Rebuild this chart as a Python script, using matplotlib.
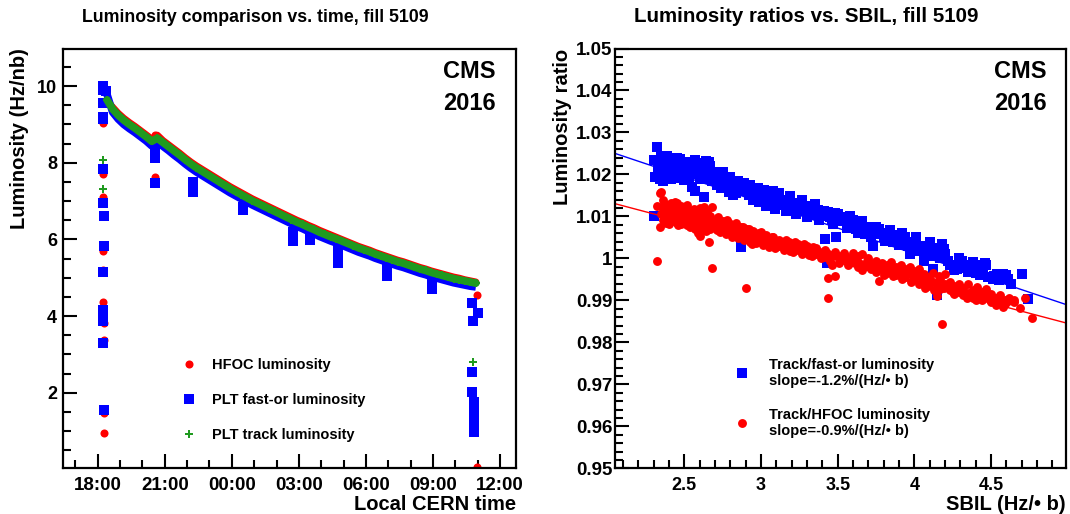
import numpy as np
import pandas as pd
import matplotlib
matplotlib.use("Agg")
import matplotlib.pyplot as plt
import matplotlib.dates as mdates
from matplotlib.ticker import MultipleLocator, FixedLocator, FixedFormatter
from matplotlib.lines import Line2D

plt.rcParams['font.family'] = ['Liberation Sans', 'DejaVu Sans']
plt.rcParams['font.weight'] = 'bold'
plt.rcParams['axes.labelweight'] = 'bold'

# ---------------- data: luminosity vs time (fill 5109) ----------------
curve_times = ["18:25", "18:40", "18:55", "19:10", "19:25", "19:40", "19:55", "20:10",
               "20:25", "20:40", "20:55", "21:10", "21:25", "21:40", "21:55", "22:10",
               "22:25", "22:40", "22:55", "23:10", "23:25", "23:40", "23:55", "00:10",
               "00:25", "00:40", "00:55", "01:10", "01:25", "01:40", "01:55", "02:10",
               "02:25", "02:40", "02:55", "03:10", "03:25", "03:40", "03:55", "04:10",
               "04:25", "04:40", "04:55", "05:10", "05:25", "05:40", "05:55", "06:10",
               "06:25", "06:40", "06:55", "07:10", "07:25", "07:40", "07:55", "08:10",
               "08:25", "08:40", "08:55", "09:10", "09:25", "09:40", "09:55", "10:10",
               "10:25", "10:40", "10:55"]
lumi_track = [9.64, 9.40, 9.24, 9.11, 9.00, 8.90, 8.79, 8.68, 8.56, 8.64, 8.53, 8.42,
              8.31, 8.20, 8.08, 7.97, 7.87, 7.78, 7.69, 7.60, 7.51, 7.42, 7.33, 7.25,
              7.17, 7.09, 7.01, 6.94, 6.87, 6.80, 6.73, 6.66, 6.59, 6.52, 6.45, 6.39,
              6.32, 6.26, 6.19, 6.13, 6.07, 6.02, 5.96, 5.90, 5.84, 5.78, 5.73, 5.68,
              5.62, 5.57, 5.52, 5.47, 5.42, 5.38, 5.33, 5.28, 5.23, 5.19, 5.14, 5.10,
              5.06, 5.02, 4.98, 4.95, 4.92, 4.89, 4.86]
lumi_fastor = [9.78, 9.32, 9.14, 9.00, 8.89, 8.79, 8.68, 8.57, 8.44, 8.55, 8.43, 8.32,
               8.20, 8.09, 7.97, 7.86, 7.76, 7.67, 7.58, 7.49, 7.40, 7.31, 7.22, 7.14,
               7.06, 6.98, 6.90, 6.83, 6.76, 6.69, 6.62, 6.55, 6.48, 6.41, 6.34, 6.28,
               6.21, 6.15, 6.08, 6.02, 5.96, 5.91, 5.85, 5.79, 5.73, 5.67, 5.62, 5.57,
               5.51, 5.46, 5.41, 5.36, 5.31, 5.27, 5.22, 5.17, 5.12, 5.08, 5.03, 4.99,
               4.95, 4.91, 4.87, 4.84, 4.81, 4.78, 4.76]
lumi_hfoc = [9.62, 9.45, 9.29, 9.16, 9.05, 8.95, 8.84, 8.73, 8.62, 8.72, 8.58, 8.47,
             8.36, 8.25, 8.13, 8.02, 7.92, 7.83, 7.74, 7.65, 7.56, 7.47, 7.38, 7.30,
             7.22, 7.14, 7.06, 6.99, 6.92, 6.85, 6.78, 6.71, 6.64, 6.57, 6.50, 6.44,
             6.37, 6.31, 6.24, 6.18, 6.12, 6.06, 6.00, 5.94, 5.88, 5.82, 5.77, 5.72,
             5.66, 5.61, 5.56, 5.51, 5.46, 5.42, 5.37, 5.32, 5.27, 5.23, 5.18, 5.14,
             5.10, 5.06, 5.02, 4.99, 4.95, 4.92, 4.89]

# ramp-up, scans and ramp-down points
extra_hfoc_t = ["18:13", "18:13", "18:14", "18:14", "18:14", "18:15", "18:15", "18:16",
                "18:16", "18:17", "18:17", "20:33", "20:33", "22:17",
                "10:58", "10:51", "10:58"]
extra_hfoc_v = [10.03, 9.04, 7.70, 7.12, 5.70, 5.20, 4.38, 3.82, 3.38, 1.47, 0.95,
                8.72, 7.62, 7.47, 4.56, 1.81, 0.07]
extra_fastor_t = ["18:13", "18:15", "18:21", "18:13", "18:14", "18:13", "18:13", "18:17",
                  "18:17", "18:13", "18:14", "18:14", "18:14", "18:14", "18:15", "18:16",
                  "20:33", "20:33", "20:33", "20:33", "22:17", "22:17", "00:31", "00:31",
                  "02:45", "02:45", "02:45", "03:30", "03:30", "04:46", "04:46", "04:46",
                  "04:46", "06:56", "06:56", "06:56", "08:56", "08:56", "08:56",
                  "10:44", "11:00", "10:46", "10:44", "10:44", "10:51", "10:51", "10:51",
                  "10:51", "10:51", "10:51"]
extra_fastor_v = [9.99, 9.90, 9.88, 9.56, 9.20, 9.14, 7.85, 6.60, 5.84, 6.95, 5.14, 4.16,
                  4.00, 3.86, 3.29, 1.55, 8.32, 8.20, 8.12, 7.47, 7.50, 7.25, 6.85, 6.78,
                  6.20, 6.05, 5.95, 6.10, 5.98, 5.80, 5.62, 5.48, 5.38, 5.40, 5.25, 5.05,
                  5.00, 4.85, 4.70, 4.34, 4.08, 3.86, 2.55, 2.03, 1.77, 1.62, 1.47, 1.32,
                  1.15, 0.99]
extra_track_t = ["18:15", "18:15", "10:48"]
extra_track_v = [8.08, 7.32, 2.81]

# ---------------- data: luminosity ratios vs SBIL ----------------
ratio_fastor = [(2.30, 1.0235), (2.30, 1.0102), (2.32, 1.0265), (2.31, 1.0195), (2.33, 1.0225),
                (2.34, 1.0188), (2.35, 1.0242), (2.36, 1.0210), (2.37, 1.0232), (2.38, 1.0196),
                (2.39, 1.0245), (2.40, 1.0215), (2.41, 1.0188), (2.42, 1.0238), (2.43, 1.0205),
                (2.44, 1.0228), (2.45, 1.0192), (2.46, 1.0218), (2.47, 1.0236), (2.48, 1.0200),
                (2.49, 1.0224), (2.50, 1.0186), (2.51, 1.0230), (2.52, 1.0210), (2.53, 1.0195),
                (2.54, 1.0228), (2.55, 1.0170), (2.56, 1.0215), (2.57, 1.0160), (2.58, 1.0225),
                (2.59, 1.0200), (2.60, 1.0188), (2.61, 1.0228), (2.62, 1.0205), (2.63, 1.0146),
                (2.64, 1.0232), (2.65, 1.0212), (2.66, 1.0195), (2.67, 1.0220), (2.68, 1.0185),
                (2.70, 1.0205), (2.71, 1.0175), (2.73, 1.0198), (2.74, 1.0168), (2.76, 1.0190),
                (2.78, 1.0172), (2.79, 1.0158), (2.81, 1.0180), (2.83, 1.0165), (2.84, 1.0155),
                (2.86, 1.0175), (2.87, 1.0027), (2.88, 1.0160), (2.90, 1.0170), (2.92, 1.0150),
                (2.94, 1.0165), (2.95, 1.0140), (2.97, 1.0158), (2.99, 1.0135), (3.01, 1.0155),
                (3.03, 1.0125), (3.05, 1.0150), (3.07, 1.0138), (3.09, 1.0118), (3.11, 1.0145),
                (3.13, 1.0128), (3.16, 1.0112), (3.18, 1.0138), (3.20, 1.0120), (3.23, 1.0105),
                (3.25, 1.0132), (3.28, 1.0112), (3.30, 1.0098), (3.33, 1.0120), (3.36, 1.0104),
                (3.38, 1.0092), (3.41, 1.0112), (3.42, 1.0046), (3.43, 0.9990), (3.45, 1.0098),
                (3.47, 1.0082), (3.49, 1.0050), (3.50, 1.0105), (3.53, 1.0088), (3.56, 1.0072),
                (3.58, 1.0100), (3.61, 1.0080), (3.63, 1.0060), (3.66, 1.0088), (3.69, 1.0068),
                (3.72, 1.0052), (3.73, 1.0030), (3.75, 1.0075), (3.78, 1.0058), (3.81, 1.0042),
                (3.84, 1.0068), (3.87, 1.0050), (3.90, 1.0032), (3.92, 1.0060), (3.95, 1.0040),
                (3.97, 1.0010), (3.99, 1.0025), (4.01, 1.0050), (4.04, 1.0030), (4.06, 0.9995),
                (4.08, 1.0015), (4.10, 1.0040), (4.12, 0.9974), (4.13, 1.0005), (4.15, 0.9914),
                (4.16, 1.0025), (4.18, 1.0035), (4.20, 1.0010), (4.23, 0.9985), (4.26, 0.9972),
                (4.29, 1.0000), (4.32, 0.9985), (4.35, 0.9968), (4.38, 0.9992), (4.41, 0.9975),
                (4.43, 0.9960), (4.46, 0.9990), (4.48, 0.9955), (4.51, 0.9950), (4.54, 0.9962),
                (4.57, 0.9955), (4.60, 0.9960), (4.63, 0.9940), (4.70, 0.9962), (4.74, 0.9904),
                (2.33, 1.0208), (2.36, 1.0185), (2.39, 1.0222), (2.42, 1.0195), (2.45, 1.0240),
                (2.48, 1.0218), (2.51, 1.0195), (2.54, 1.0205), (2.57, 1.0235), (2.60, 1.0215),
                (2.63, 1.0190), (2.66, 1.0230), (2.69, 1.0200), (2.72, 1.0188), (2.75, 1.0205),
                (2.77, 1.0185), (2.80, 1.0195), (2.82, 1.0150), (2.85, 1.0185), (2.89, 1.0180),
                (2.91, 1.0160), (2.93, 1.0175), (2.96, 1.0150), (2.98, 1.0168), (3.00, 1.0145),
                (3.02, 1.0162), (3.04, 1.0140), (3.06, 1.0128), (3.08, 1.0160), (3.10, 1.0130),
                (3.12, 1.0155), (3.15, 1.0135), (3.17, 1.0122), (3.19, 1.0148), (3.22, 1.0128),
                (3.24, 1.0115), (3.27, 1.0140), (3.29, 1.0125), (3.32, 1.0105), (3.35, 1.0130),
                (3.37, 1.0115), (3.40, 1.0100), (3.44, 1.0110), (3.46, 1.0095), (3.48, 1.0108),
                (3.52, 1.0098), (3.55, 1.0090), (3.57, 1.0078), (3.60, 1.0092), (3.62, 1.0070),
                (3.65, 1.0080), (3.68, 1.0058), (3.71, 1.0075), (3.74, 1.0065), (3.77, 1.0070),
                (3.80, 1.0052), (3.83, 1.0060), (3.86, 1.0040), (3.89, 1.0055), (3.91, 1.0045),
                (3.94, 1.0052), (3.96, 1.0030), (4.00, 1.0038), (4.03, 1.0018), (4.07, 1.0008),
                (4.11, 1.0025), (4.14, 1.0015), (4.17, 1.0000), (4.19, 1.0022), (4.22, 0.9995),
                (4.25, 0.9985), (4.28, 0.9975), (4.31, 0.9995), (4.34, 0.9978), (4.37, 0.9985),
                (4.40, 0.9965), (4.42, 0.9985), (4.45, 0.9970), (4.47, 0.9985), (4.52, 0.9958),
                (4.55, 0.9948), (4.58, 0.9962), (4.61, 0.9952)]
ratio_hfoc = [(2.32, 1.0126), (2.32, 0.9994), (2.34, 1.0156), (2.34, 1.0074), (2.35, 1.0158),
              (2.35, 1.0105), (2.36, 1.0118), (2.36, 1.0092), (2.37, 1.0130), (2.37, 1.0100),
              (2.38, 1.0108), (2.38, 1.0085), (2.39, 1.0125), (2.39, 1.0095), (2.40, 1.0112),
              (2.40, 1.0082), (2.41, 1.0132), (2.41, 1.0098), (2.42, 1.0105), (2.42, 1.0088),
              (2.43, 1.0128), (2.43, 1.0092), (2.44, 1.0115), (2.44, 1.0100), (2.45, 1.0132),
              (2.45, 1.0085), (2.46, 1.0098), (2.46, 1.0110), (2.47, 1.0120), (2.47, 1.0090),
              (2.48, 1.0105), (2.48, 1.0082), (2.49, 1.0115), (2.49, 1.0094), (2.50, 1.0100),
              (2.50, 1.0085), (2.51, 1.0122), (2.51, 1.0092), (2.52, 1.0108), (2.52, 1.0080),
              (2.53, 1.0115), (2.53, 1.0095), (2.54, 1.0090), (2.54, 1.0102), (2.55, 1.0110),
              (2.55, 1.0078), (2.56, 1.0098), (2.56, 1.0088), (2.57, 1.0112), (2.57, 1.0070),
              (2.58, 1.0095), (2.58, 1.0082), (2.59, 1.0105), (2.59, 1.0060), (2.60, 1.0090),
              (2.60, 1.0054), (2.61, 1.0098), (2.61, 1.0078), (2.62, 1.0112), (2.62, 1.0086),
              (2.63, 1.0122), (2.63, 1.0072), (2.64, 1.0095), (2.64, 1.0080), (2.66, 1.0038),
              (2.66, 1.0088), (2.67, 1.0102), (2.67, 1.0070), (2.68, 1.0123), (2.68, 0.9977),
              (2.69, 1.0085), (2.69, 1.0075), (2.71, 1.0092), (2.71, 1.0068), (2.73, 1.0080),
              (2.73, 1.0062), (2.75, 1.0090), (2.75, 1.0072), (2.77, 1.0078), (2.77, 1.0058),
              (2.79, 1.0085), (2.79, 1.0066), (2.81, 1.0072), (2.81, 1.0052), (2.83, 1.0080),
              (2.83, 1.0060), (2.85, 1.0068), (2.85, 1.0048), (2.87, 1.0075), (2.87, 1.0055),
              (2.89, 1.0062), (2.89, 1.0044), (2.90, 0.9930), (2.91, 1.0070), (2.91, 1.0052),
              (2.93, 1.0058), (2.93, 1.0040), (2.95, 1.0065), (2.95, 1.0048), (2.97, 1.0052),
              (2.97, 1.0036), (2.99, 1.0060), (2.99, 1.0042), (3.01, 1.0048), (3.01, 1.0032),
              (3.03, 1.0055), (3.03, 1.0038), (3.05, 1.0042), (3.05, 1.0028), (3.07, 1.0050),
              (3.07, 1.0034), (3.09, 1.0038), (3.09, 1.0024), (3.12, 1.0045), (3.12, 1.0030),
              (3.15, 1.0032), (3.15, 1.0020), (3.18, 1.0040), (3.18, 1.0026), (3.21, 1.0028),
              (3.21, 1.0015), (3.24, 1.0035), (3.24, 1.0020), (3.27, 1.0022), (3.27, 1.0010),
              (3.30, 1.0030), (3.30, 1.0015), (3.33, 1.0018), (3.33, 1.0005), (3.36, 1.0025),
              (3.36, 1.0010), (3.39, 1.0012), (3.39, 1.0000), (3.42, 1.0020), (3.42, 1.0004),
              (3.44, 0.9906), (3.44, 0.9954), (3.45, 1.0008), (3.45, 0.9995), (3.48, 1.0015),
              (3.48, 0.9958), (3.51, 1.0005), (3.51, 0.9990), (3.54, 1.0012), (3.54, 0.9998),
              (3.57, 1.0000), (3.57, 0.9985), (3.60, 1.0012), (3.60, 0.9992), (3.63, 1.0005),
              (3.63, 0.9980), (3.66, 1.0010), (3.66, 0.9972), (3.69, 0.9995), (3.69, 0.9982),
              (3.72, 0.9988), (3.72, 0.9975), (3.75, 0.9995), (3.75, 0.9968), (3.77, 0.9946),
              (3.79, 0.9990), (3.79, 0.9975), (3.82, 0.9985), (3.82, 0.9965), (3.85, 0.9992),
              (3.85, 0.9972), (3.88, 0.9980), (3.88, 0.9960), (3.91, 0.9985), (3.91, 0.9968),
              (3.94, 0.9975), (3.94, 0.9955), (3.97, 0.9980), (3.97, 0.9962), (4.00, 0.9970),
              (4.00, 0.9950), (4.03, 0.9975), (4.03, 0.9940), (4.06, 0.9962), (4.06, 0.9948),
              (4.09, 0.9955), (4.09, 0.9935), (4.12, 0.9965), (4.12, 0.9945), (4.15, 0.9938),
              (4.15, 0.9910), (4.17, 0.9950), (4.17, 0.9928), (4.18, 0.9844), (4.20, 0.9962),
              (4.20, 0.9940), (4.23, 0.9945), (4.23, 0.9925), (4.26, 0.9935), (4.26, 0.9915),
              (4.29, 0.9940), (4.29, 0.9920), (4.32, 0.9930), (4.32, 0.9912), (4.35, 0.9938),
              (4.35, 0.9918), (4.38, 0.9925), (4.38, 0.9905), (4.41, 0.9932), (4.41, 0.9912),
              (4.44, 0.9920), (4.44, 0.9902), (4.47, 0.9928), (4.47, 0.9908), (4.50, 0.9915),
              (4.50, 0.9895), (4.53, 0.9905), (4.53, 0.9890), (4.56, 0.9912), (4.56, 0.9898),
              (4.59, 0.9900), (4.59, 0.9892), (4.62, 0.9905), (4.65, 0.9895), (4.65, 0.9900),
              (4.69, 0.9882), (4.72, 0.9905), (4.77, 0.9858),
              (2.36, 1.0140), (2.38, 1.0128), (2.40, 1.0098), (2.42, 1.0120), (2.44, 1.0135),
              (2.46, 1.0080), (2.48, 1.0125), (2.50, 1.0112), (2.52, 1.0128), (2.54, 1.0075),
              (2.56, 1.0118), (2.58, 1.0108), (2.60, 1.0120), (2.62, 1.0100), (2.64, 1.0065),
              (2.65, 1.0110), (2.67, 1.0090), (2.70, 1.0080), (2.72, 1.0098), (2.74, 1.0085),
              (2.76, 1.0065), (2.78, 1.0092), (2.80, 1.0078), (2.82, 1.0065), (2.84, 1.0085),
              (2.86, 1.0060), (2.88, 1.0075), (2.90, 1.0060), (2.92, 1.0070), (2.94, 1.0035),
              (2.96, 1.0060), (2.98, 1.0050), (3.00, 1.0062), (3.02, 1.0040), (3.04, 1.0050),
              (3.06, 1.0040), (3.08, 1.0052), (3.10, 1.0030), (3.13, 1.0038), (3.16, 1.0045),
              (3.19, 1.0018), (3.22, 1.0038), (3.25, 1.0028), (3.28, 1.0035), (3.31, 1.0008),
              (3.34, 1.0028), (3.37, 1.0018), (3.40, 1.0008), (3.43, 1.0012), (3.46, 0.9985),
              (3.49, 1.0005), (3.52, 0.9998), (3.55, 1.0005), (3.58, 0.9992), (3.61, 1.0002),
              (3.64, 0.9990), (3.67, 0.9985), (3.70, 1.0002), (3.73, 0.9985), (3.76, 0.9980),
              (3.80, 0.9960), (3.83, 0.9978), (3.86, 0.9958), (3.89, 0.9972), (3.92, 0.9952),
              (3.95, 0.9968), (3.98, 0.9945), (4.01, 0.9960), (4.04, 0.9955), (4.07, 0.9930),
              (4.10, 0.9948), (4.13, 0.9925), (4.16, 0.9958), (4.19, 0.9930), (4.22, 0.9932),
              (4.25, 0.9920), (4.28, 0.9932), (4.31, 0.9920), (4.34, 0.9905), (4.37, 0.9918),
              (4.40, 0.9900), (4.43, 0.9912), (4.46, 0.9918), (4.49, 0.9900), (4.52, 0.9898),
              (4.55, 0.9905), (4.58, 0.9885), (4.61, 0.9898)]

# linear fits: (value at SBIL=2, slope per Hz/ub)
fit_fastor = (1.0256, -0.01224)
fit_hfoc = (1.0135, -0.00966)

ratio_ticks = [0.95, 0.96, 0.97, 0.98, 0.99, 1.00, 1.01, 1.02, 1.03, 1.04, 1.05]
ratio_labels = ["0.95", "0.96", "0.97", "0.98", "0.99", "1", "1.01", "1.02", "1.03", "1.04", "1.05"]
sbil_ticks = [2.5, 3.0, 3.5, 4.0, 4.5]
sbil_labels = ["2.5", "3", "3.5", "4", "4.5"]

BLUE = "#0000ff"
RED = "#ff0000"
GREEN = "#1f9a1f"


def to_dt(times):
    # fill starts in the evening of 19 Jul 2016, times before 16:00 are next day
    out = []
    for t in times:
        d = pd.Timestamp("2016-07-19 " + t)
        if d.hour < 16:
            d = d + pd.Timedelta(days=1)
        out.append(d.to_pydatetime())
    return mdates.date2num(out)


def style_axis(ax):
    for sp in ax.spines.values():
        sp.set_linewidth(1.6)
    ax.tick_params(which='both', direction='in', top=False, right=False, width=1.5,
                   labelsize=13, colors='black')
    ax.tick_params(which='major', length=10)
    ax.tick_params(which='minor', length=5.5)


fig = plt.figure(figsize=(10.7, 5.14), dpi=100)

# ---------------- left panel ----------------
ax1 = fig.add_axes([0.0586, 0.0889, 0.4234, 0.8167])
t_curve = to_dt(curve_times)
# dense samples drawn as a band of markers (line width ~ marker size)
ax1.plot(t_curve, lumi_hfoc, '-', color=RED, lw=5.0, solid_capstyle='round')
ax1.plot(to_dt(extra_hfoc_t), extra_hfoc_v, 'o', color=RED, ms=5.8, mew=0, ls='none')
ax1.plot(t_curve, lumi_fastor, '-', color=BLUE, lw=5.5, solid_capstyle='butt')
ax1.plot(to_dt(extra_fastor_t), extra_fastor_v, 's', color=BLUE, ms=6.5, mew=0, ls='none')
ax1.plot(t_curve, lumi_track, '-', color=GREEN, lw=5.5, solid_capstyle='round')
ax1.plot(t_curve, lumi_track, 'P', color=GREEN, ms=6.3, mew=0, ls='none')
ax1.plot(to_dt(extra_track_t), extra_track_v, 'P', color=GREEN, ms=6.3, mew=0, ls='none')

x0, x1 = to_dt(["16:26", "12:42"])
ax1.set_xlim(x0, x1)
ax1.set_ylim(0.03, 10.98)
ax1.xaxis.set_major_locator(mdates.HourLocator(byhour=[0, 3, 6, 9, 12, 15, 18, 21]))
ax1.xaxis.set_minor_locator(mdates.HourLocator())
ax1.xaxis.set_major_formatter(mdates.DateFormatter('%H:%M'))
ax1.yaxis.set_major_locator(FixedLocator([2, 4, 6, 8, 10]))
ax1.yaxis.set_minor_locator(MultipleLocator(0.5))
style_axis(ax1)
ax1.tick_params(axis='x', labelsize=13.5, pad=6)
ax1.tick_params(axis='y', pad=4)
ax1.set_xlabel("Local CERN time", fontsize=14.5, loc='right', labelpad=1)
ax1.set_ylabel("Luminosity (Hz/nb)", fontsize=14.5, loc='top', labelpad=6)

h1 = [Line2D([], [], marker='o', color=RED, ms=5.8, mew=0, ls='none'),
      Line2D([], [], marker='s', color=BLUE, ms=6.5, mew=0, ls='none'),
      Line2D([], [], marker='P', color=GREEN, ms=6.3, mew=0, ls='none')]
ax1.legend(h1, ["HFOC luminosity", "PLT fast-or luminosity", "PLT track luminosity"],
           loc='upper left', bbox_to_anchor=(0.249, 0.277), frameon=False,
           prop={'size': 10.5, 'weight': 'bold'}, labelspacing=1.45,
           handletextpad=1.1, handlelength=1.0, borderaxespad=0)

fig.text(255 / 1070, 1 - 17 / 514, "Luminosity comparison vs. time, fill 5109",
         ha='center', va='center', fontsize=12.8, fontweight='bold')
fig.text(469 / 1070, 1 - 72 / 514, "CMS", ha='center', va='center', fontsize=17, fontweight='bold')
fig.text(469 / 1070, 1 - 104 / 514, "2016", ha='center', va='center', fontsize=17, fontweight='bold')

# ---------------- right panel ----------------
ax2 = fig.add_axes([0.5748, 0.0889, 0.4212, 0.8167])
sb_f, r_f = zip(*ratio_fastor)
sb_h, r_h = zip(*ratio_hfoc)
ax2.plot(sb_f, r_f, 's', color=BLUE, ms=7.2, mew=0, ls='none')
ax2.plot(sb_h, r_h, 'o', color=RED, ms=6.4, mew=0, ls='none')

xlo, xhi = 2.048, 4.987
xfit = np.array([xlo, xhi])
ax2.plot(xfit, fit_fastor[0] + fit_fastor[1] * (xfit - 2.0), color=BLUE, lw=1.0)
ax2.plot(xfit, fit_hfoc[0] + fit_hfoc[1] * (xfit - 2.0), color=RED, lw=1.0)

ax2.set_xlim(xlo, xhi)
ax2.set_ylim(0.95, 1.05)
ax2.xaxis.set_major_locator(FixedLocator(sbil_ticks))
ax2.xaxis.set_major_formatter(FixedFormatter(sbil_labels))
ax2.xaxis.set_minor_locator(MultipleLocator(0.1))
ax2.yaxis.set_major_locator(FixedLocator(ratio_ticks))
ax2.yaxis.set_major_formatter(FixedFormatter(ratio_labels))
ax2.yaxis.set_minor_locator(MultipleLocator(0.002))
style_axis(ax2)
ax2.tick_params(axis='y', labelsize=13.5, pad=2)
ax2.tick_params(axis='x', pad=6)
ax2.set_xlabel("SBIL (Hz/\u2022 b)", fontsize=14.5, loc='right', labelpad=1)
ax2.set_ylabel("Luminosity ratio", fontsize=14.5, loc='top', labelpad=3)

h2 = [Line2D([], [], marker='s', color=BLUE, ms=7.2, mew=0, ls='none'),
      Line2D([], [], marker='o', color=RED, ms=6.4, mew=0, ls='none')]
ax2.legend(h2, ["Track/fast-or luminosity\nslope=-1.2%/(Hz/\u2022 b)",
                "Track/HFOC luminosity\nslope=-0.9%/(Hz/\u2022 b)"],
           loc='upper left', bbox_to_anchor=(0.252, 0.277), frameon=False,
           prop={'size': 10.5, 'weight': 'bold'}, labelspacing=1.35,
           handletextpad=1.4, handlelength=1.0, borderaxespad=0)

fig.text(806 / 1070, 1 - 17 / 514, "Luminosity ratios vs. SBIL, fill 5109",
         ha='center', va='center', fontsize=14.8, fontweight='bold')
fig.text(1020 / 1070, 1 - 72 / 514, "CMS", ha='center', va='center', fontsize=17, fontweight='bold')
fig.text(1020 / 1070, 1 - 104 / 514, "2016", ha='center', va='center', fontsize=17, fontweight='bold')

fig.savefig("out.png", dpi=100)
